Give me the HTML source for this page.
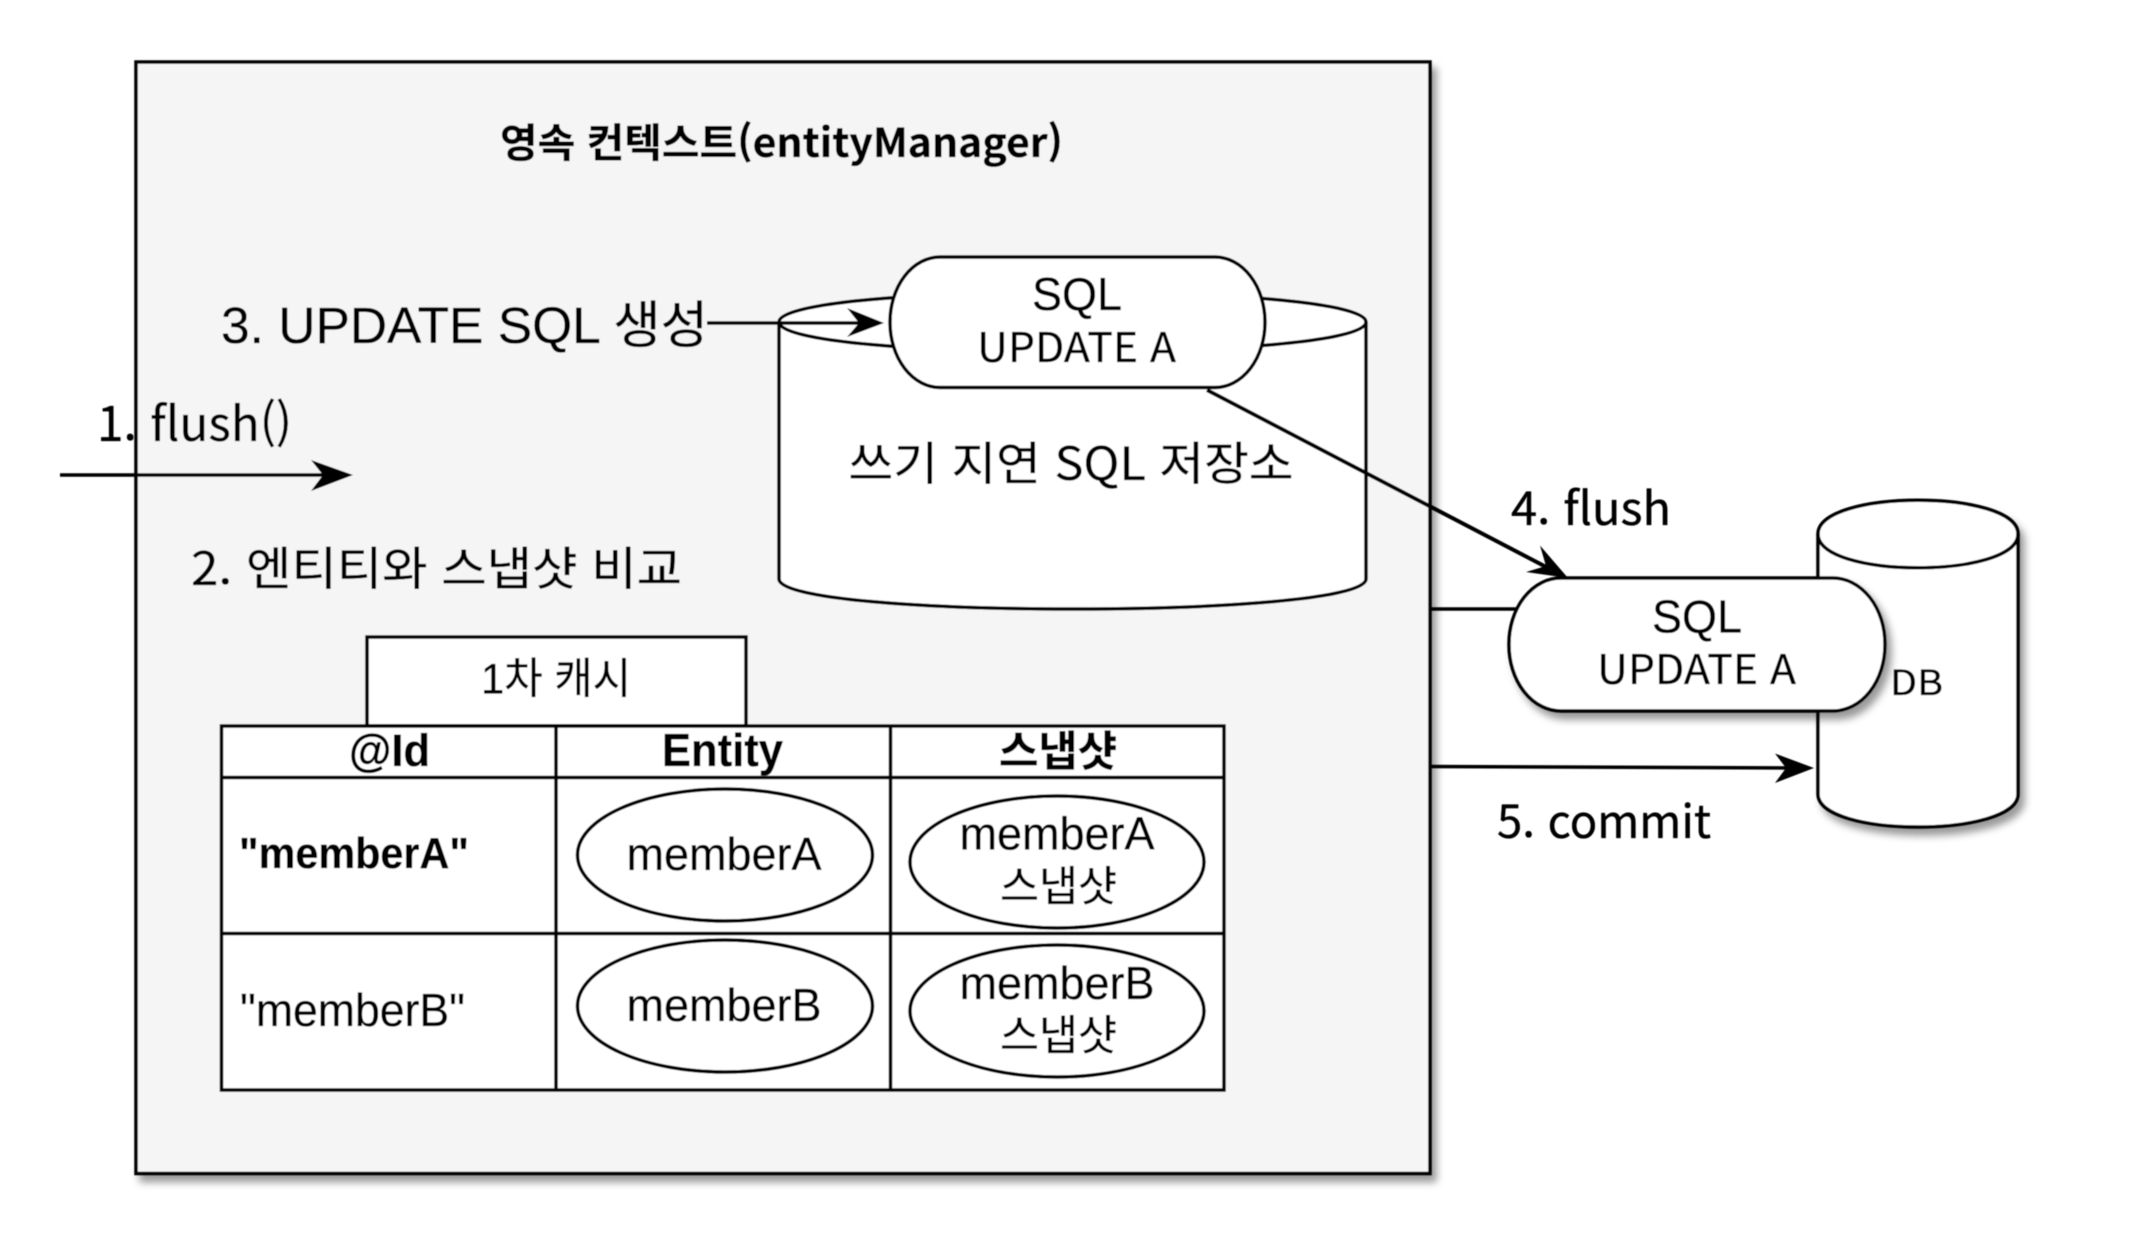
<!DOCTYPE html>
<html lang="ko">
<head>
<meta charset="utf-8">
<title>영속 컨텍스트 flush</title>
<style>
html,body{margin:0;padding:0;background:#fff;width:2146px;height:1240px;overflow:hidden}
svg{display:block}
text{fill:#000;stroke:#000;stroke-width:.35px}
.l{font-family:"Liberation Sans","Noto Sans CJK KR",sans-serif}
.n{font-family:"Noto Sans CJK KR","Liberation Sans",sans-serif}
.b{font-weight:700}
.s{fill:none;stroke:#000;stroke-width:3.5}
.w{fill:#fff;stroke:#000;stroke-width:3.5}
</style>
</head>
<body>
<svg width="2146" height="1240" viewBox="0 0 2146 1240" xmlns="http://www.w3.org/2000/svg">
<defs>
<filter id="sh" filterUnits="userSpaceOnUse" x="0" y="0" width="2146" height="1240">
<feDropShadow dx="5" dy="7" stdDeviation="4" flood-color="#000" flood-opacity="0.4"/>
</filter>
<filter id="soft" filterUnits="userSpaceOnUse" x="0" y="0" width="2146" height="1240"><feGaussianBlur stdDeviation="0.6"/></filter>
</defs>
<g filter="url(#soft)">
<rect x="136" y="62" width="1294" height="1111.5" fill="#f5f5f5" stroke="#000" stroke-width="3.5" filter="url(#sh)"/>
<text class="n b" x="500" y="157" font-size="40" textLength="563" lengthAdjust="spacingAndGlyphs">영속 컨텍스트(entityManager)</text>

<!-- write-behind store -->
<path class="w" d="M779 322 C779 282 1366 282 1366 322 L1366 579 C1366 619 779 619 779 579 Z"/>
<path class="s" d="M779 322 C779 362 1366 362 1366 322"/>
<text class="n" x="848.5" y="480" font-size="46" textLength="445" lengthAdjust="spacingAndGlyphs">쓰기 지연 SQL 저장소</text>

<!-- top pill -->
<rect class="w" x="890" y="257" width="375" height="130.5" rx="50" ry="65"/>
<text class="l" x="1032" y="310" font-size="46" textLength="90" lengthAdjust="spacingAndGlyphs">SQL</text>
<text class="n" x="977" y="362" font-size="41" textLength="199" lengthAdjust="spacingAndGlyphs">UPDATE A</text>

<text class="l" x="221" y="343" font-size="51" textLength="487" lengthAdjust="spacingAndGlyphs">3. UPDATE SQL 생성</text>
<line class="s" x1="707" y1="323" x2="870" y2="323"/>
<polygon points="884,323 847,308 859,323 847,337"/>

<text class="n" x="97" y="441" font-size="48" textLength="195" lengthAdjust="spacingAndGlyphs">1. flush()</text>
<line class="s" x1="60" y1="475" x2="335" y2="475"/>
<polygon points="353,475 311,460 323,475 311,491"/>

<text class="n" x="191" y="585" font-size="46" textLength="491" lengthAdjust="spacingAndGlyphs">2. 엔티티와 스냅샷 비교</text>

<!-- first-level cache -->
<rect class="w" x="367" y="637" width="379" height="89"/>
<text class="l" x="481" y="693.5" font-size="43" textLength="150" lengthAdjust="spacingAndGlyphs">1차 캐시</text>
<rect class="w" x="221.5" y="726" width="1002.5" height="364"/>
<line class="s" x1="222" y1="777.5" x2="1224" y2="777.5"/>
<line class="s" x1="222" y1="933.5" x2="1224" y2="933.5"/>
<line class="s" x1="556" y1="726" x2="556" y2="1090"/>
<line class="s" x1="890.5" y1="726" x2="890.5" y2="1090"/>
<text class="l b" x="349" y="766" font-size="45" textLength="81" lengthAdjust="spacingAndGlyphs">@Id</text>
<text class="l b" x="662" y="766" font-size="46" textLength="121" lengthAdjust="spacingAndGlyphs">Entity</text>
<text class="l b" x="999" y="766" font-size="42" textLength="118" lengthAdjust="spacingAndGlyphs">스냅샷</text>
<text class="l b" x="239" y="868" font-size="44" textLength="230" lengthAdjust="spacingAndGlyphs">"memberA"</text>
<text class="l" x="240" y="1026" font-size="46" textLength="225" lengthAdjust="spacingAndGlyphs">"memberB"</text>

<ellipse class="w" cx="725" cy="855" rx="147.5" ry="66"/>
<text class="l" x="626.5" y="870" font-size="46" textLength="195" lengthAdjust="spacingAndGlyphs">memberA</text>
<ellipse class="w" cx="725" cy="1006" rx="147.5" ry="66"/>
<text class="l" x="626.5" y="1021" font-size="46" textLength="195" lengthAdjust="spacingAndGlyphs">memberB</text>
<ellipse class="w" cx="1057" cy="862" rx="147" ry="66"/>
<text class="l" x="959.5" y="849.5" font-size="46" textLength="195" lengthAdjust="spacingAndGlyphs">memberA</text>
<text class="l" x="1000" y="901" font-size="42" textLength="117" lengthAdjust="spacingAndGlyphs">스냅샷</text>
<ellipse class="w" cx="1057" cy="1011" rx="147" ry="66"/>
<text class="l" x="959.5" y="999" font-size="46" textLength="195" lengthAdjust="spacingAndGlyphs">memberB</text>
<text class="l" x="1000" y="1050" font-size="42" textLength="117" lengthAdjust="spacingAndGlyphs">스냅샷</text>

<!-- DB -->
<g filter="url(#sh)">
<path class="w" d="M1818 534 C1818 489 2018 489 2018 534 L2018 794 C2018 838 1818 838 1818 794 Z"/>
</g>
<path class="s" d="M1818 534 C1818 579 2018 579 2018 534"/>
<text class="n" x="1890" y="695" font-size="35" textLength="53" lengthAdjust="spacingAndGlyphs">DB</text>

<line class="s" x1="1430" y1="609" x2="1530" y2="609"/>
<rect class="w" x="1509" y="578" width="376" height="133" rx="52" ry="66" filter="url(#sh)"/>
<text class="l" x="1652" y="632.5" font-size="46" textLength="90" lengthAdjust="spacingAndGlyphs">SQL</text>
<text class="n" x="1597" y="684" font-size="41" textLength="199" lengthAdjust="spacingAndGlyphs">UPDATE A</text>

<!-- flush connector -->
<line x1="1207" y1="390" x2="1550" y2="569" stroke="#000" stroke-width="4"/>
<polygon points="1568,578 1540,545.5 1546,566 1526,572"/>
<text class="n" x="1511" y="525" font-size="46" textLength="160" lengthAdjust="spacingAndGlyphs">4. flush</text>

<!-- commit connector -->
<line class="s" x1="1430" y1="766.5" x2="1800" y2="768"/>
<polygon points="1814,768 1775,753.5 1786,768 1775,783"/>
<text class="n" x="1497" y="838" font-size="46" textLength="214" lengthAdjust="spacingAndGlyphs">5. commit</text>
</g>
</svg>
</body>
</html>
